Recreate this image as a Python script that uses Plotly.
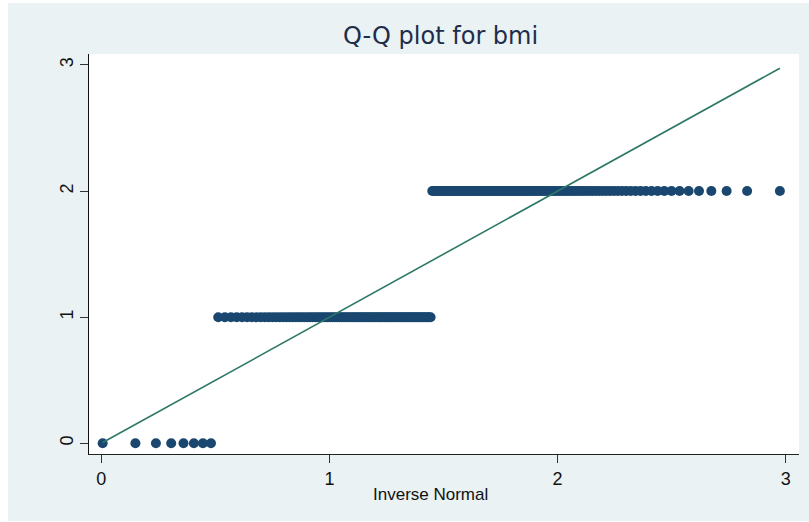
import statistics
import plotly.graph_objects as go

# bmi category codes and how many observations fall in each
bmi_levels = [0, 1, 2]
bmi_counts = [8, 86, 106]

x_ticks = [0, 1, 2, 3]
y_ticks = [0, 1, 2, 3]
x_tick_labels = ["0", "1", "2", "3"]
y_tick_labels = ["0", "1", "2", "3"]

# sorted sample and the matching inverse-normal quantiles (qnorm style: i/(N+1))
bmi_sorted = sorted(v for v, c in zip(bmi_levels, bmi_counts) for _ in range(c))
n = len(bmi_sorted)
mu = statistics.mean(bmi_sorted)
sd = statistics.stdev(bmi_sorted)
std_normal = statistics.NormalDist()
inv_normal = [mu + sd * std_normal.inv_cdf(i / (n + 1)) for i in range(1, n + 1)]

NAVY = "#1a476f"
LINE = "#2d7868"
BG = "#eaf2f3"
TICK_FONT = dict(family="Liberation Sans, Arial, sans-serif", size=18, color="#111111")

fig = go.Figure()
fig.add_trace(go.Scatter(
    x=inv_normal, y=bmi_sorted, mode="markers",
    marker=dict(color=NAVY, size=10, line=dict(width=0)),
    showlegend=False, hoverinfo="skip",
))
fig.add_trace(go.Scatter(
    x=[inv_normal[0], inv_normal[-1]], y=[inv_normal[0], inv_normal[-1]],
    mode="lines", line=dict(color=LINE, width=1.6),
    showlegend=False, hoverinfo="skip",
))

L, R, T, B = 89, 10, 54, 68
W, H = 809, 522
pw, ph = W - L - R, H - T - B

def px_x(p):
    return (p - L) / pw

def px_y(p):
    return (H - B - p) / ph

fig.update_layout(
    width=W, height=H,
    margin=dict(l=L, r=R, t=T, b=B, pad=0),
    paper_bgcolor="white",
    plot_bgcolor="white",
    font=dict(family="Liberation Sans, Arial, sans-serif", size=17, color="#111111"),
    shapes=[
        dict(type="rect", xref="paper", yref="paper", layer="below",
             x0=px_x(8), x1=px_x(812), y0=px_y(521), y1=px_y(3),
             fillcolor=BG, line=dict(width=0)),
        dict(type="rect", xref="paper", yref="paper", layer="below",
             x0=0, x1=1, y0=0, y1=1, fillcolor="white", line=dict(width=0)),
    ],
    annotations=[
        dict(text="Q-Q plot for bmi", xref="paper", yref="paper",
             x=px_x(440), y=px_y(36), xanchor="center", yanchor="middle",
             showarrow=False,
             font=dict(family="DejaVu Sans", size=24, color="#1f2d4d")),
        dict(text="Inverse Normal", xref="paper", yref="paper",
             x=px_x(430.5), y=px_y(494), xanchor="center", yanchor="middle",
             showarrow=False,
             font=dict(family="Liberation Sans, Arial, sans-serif", size=17, color="#111111")),
    ],
)

fig.update_xaxes(
    range=[-0.054, 3.058], tickmode="array", tickvals=x_ticks, ticktext=x_tick_labels,
    ticks="outside", ticklen=8, tickwidth=1, tickcolor="#333333", tickfont=TICK_FONT,
    showline=True, linecolor="#222222", linewidth=1,
    showgrid=False, zeroline=False,
)
fig.update_yaxes(
    range=[-0.085, 3.087], tickmode="array", tickvals=y_ticks, ticktext=y_tick_labels,
    ticks="outside", ticklen=8, tickwidth=1, tickcolor="#333333", tickangle=-90,
    tickfont=TICK_FONT,
    showline=True, linecolor="#111111", linewidth=1,
    showgrid=False, zeroline=False,
)

fig.write_html("out.html")
